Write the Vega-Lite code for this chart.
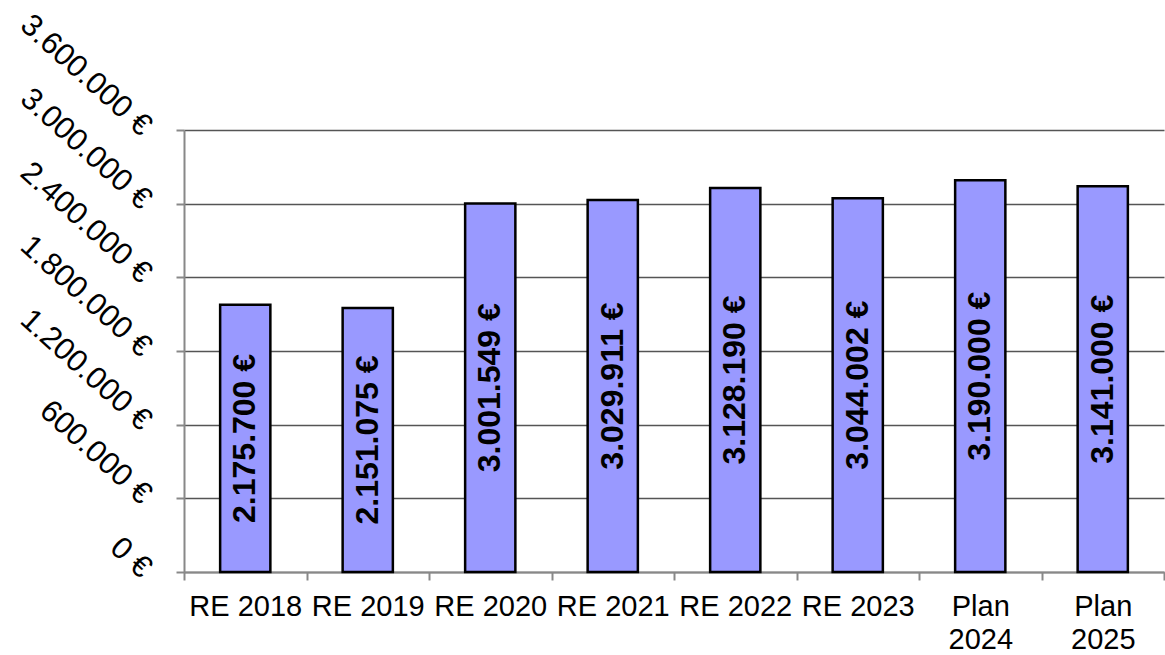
{
  "$schema": "https://vega.github.io/schema/vega-lite/v6.json",
  "width": 980,
  "height": 442,
  "autosize": "none",
  "padding": {"left": 184, "top": 130, "right": 1, "bottom": 83},
  "config": {
    "font": "Liberation Sans",
    "view": {"stroke": null},
    "locale": {"number": {"decimal": ",", "thousands": ".", "grouping": [3], "currency": ["", " €"]}}
  },
  "data": {
    "values": [
      {"label": "RE 2018", "value": 2175700},
      {"label": "RE 2019", "value": 2151075},
      {"label": "RE 2020", "value": 3001549},
      {"label": "RE 2021", "value": 3029911},
      {"label": "RE 2022", "value": 3128190},
      {"label": "RE 2023", "value": 3044002},
      {"label": "Plan 2024", "value": 3190000},
      {"label": "Plan 2025", "value": 3141000}
    ]
  },
  "layer": [
    {
      "mark": {"type": "bar", "width": {"band": 0.41}, "fill": "#9999FF", "stroke": "#000000", "strokeWidth": 2.5},
      "encoding": {
        "x": {
          "field": "label", "type": "nominal", "sort": null,
          "scale": {"paddingInner": 0, "paddingOuter": 0},
          "axis": {
            "title": null, "labelAngle": 0, "tickBand": "extent", "grid": false,
            "labelFontSize": 29, "labelColor": "#000000", "labelBaseline": "top",
            "labelPadding": 12, "labelLineHeight": 33,
            "labelExpr": "indexof(datum.label, 'Plan') == 0 ? split(datum.label, ' ') : datum.label",
            "domainColor": "#888888", "domainWidth": 2,
            "tickColor": "#888888", "tickSize": 8, "tickWidth": 2
          }
        },
        "y": {
          "field": "value", "type": "quantitative",
          "scale": {"domain": [0, 3600000], "nice": false},
          "axis": {
            "title": null,
            "values": [0, 600000, 1200000, 1800000, 2400000, 3000000, 3600000],
            "format": "$,.0f",
            "labelAngle": 42, "labelAlign": "right", "labelBaseline": "middle",
            "labelFontSize": 31, "labelColor": "#000000", "labelPadding": 30,
            "labelOverlap": false, "labelBound": false, "labelFlush": false,
            "domainColor": "#888888", "domainWidth": 2,
            "tickColor": "#888888", "tickSize": 8, "tickWidth": 2,
            "gridColor": "#555555", "gridWidth": 1.5
          }
        }
      }
    },
    {
      "mark": {"type": "text", "angle": 270, "fontWeight": "bold", "fontSize": 32, "align": "center", "baseline": "middle", "color": "#000000"},
      "encoding": {
        "x": {"field": "label", "type": "nominal", "sort": null},
        "y": {"field": "value", "type": "quantitative", "scale": {"domain": [0, 7200000], "nice": false}, "axis": null},
        "text": {"field": "value", "type": "quantitative", "format": "$,.0f"}
      }
    }
  ],
  "resolve": {"scale": {"y": "independent"}}
}
